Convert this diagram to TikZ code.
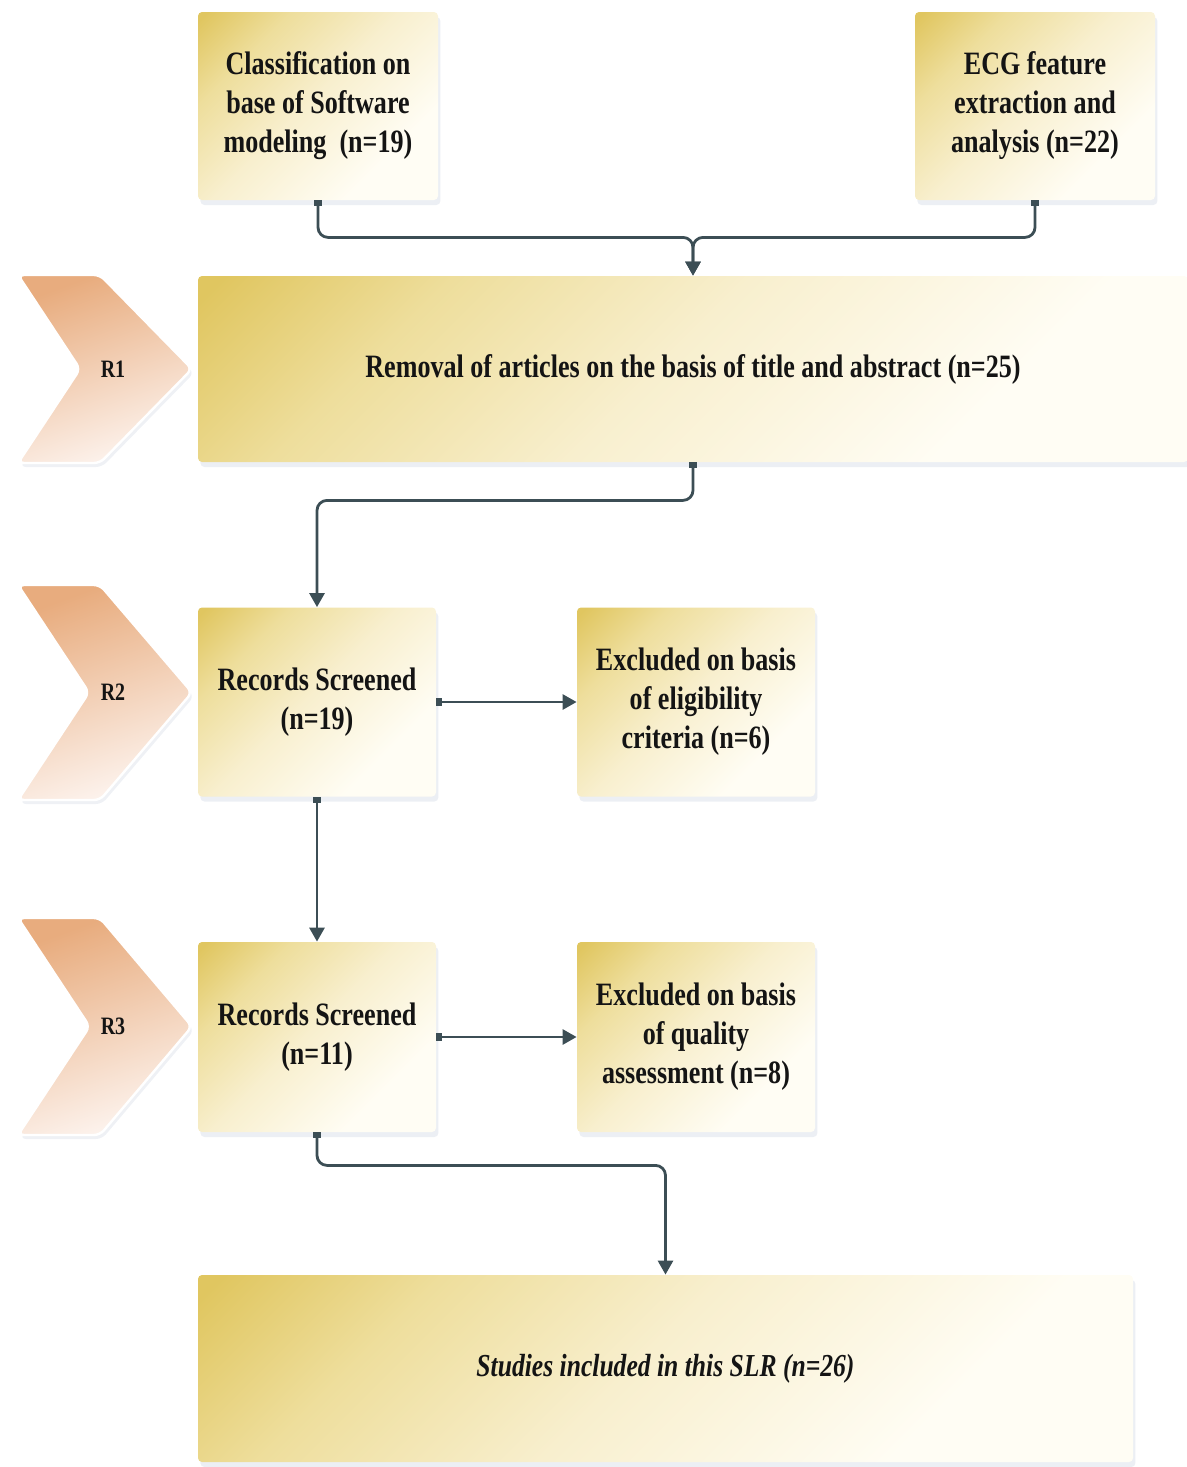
\documentclass[tikz,border=0pt]{standalone}
\usepackage{fontspec}
\setmainfont[FakeStretch=0.8]{Liberation Serif}
\usepackage{tikz}
\usepackage{xcolor}
\usetikzlibrary{arrows.meta}
\usetikzlibrary{positioning}
\usetikzlibrary{shadows}

\begin{document}
\begin{tikzpicture}[x=0.5pt, y=-0.5pt,
		stagebox/.style={rectangle, rounded corners=2pt, inner sep=0pt, align=center,
			shading=boxfade, shading angle=45,
			drop shadow={shadow xshift=1.2pt, shadow yshift=-2.5pt, opacity=0.14, fill=SHADOW},
			font=\bfseries\fontsize{16.3}{19.5}\selectfont, text=ALMOST_BLACK},
		chevron/.style={draw=WHITE, line width=1.2pt, rounded corners=3pt,
			top color=PEACH, bottom color=BLUSH, shading angle=20,
			drop shadow={shadow xshift=1pt, shadow yshift=-2pt, opacity=0.12, fill=SHADOW}},
		tag/.style={font=\bfseries\fontsize{12.5}{14}\selectfont, text=ALMOST_BLACK},
		link/.style={draw=SLATE, line width=1.4pt, rounded corners=5pt,
			{Square[length=3pt,width=4pt]}-{Triangle[length=7pt,width=7.5pt]}}]
				\definecolor{WHITE}{RGB}{255, 255, 255}
				\definecolor{ALMOST_BLACK}{RGB}{20, 20, 20}
				\definecolor{GOLD}{RGB}{224, 198, 96}
				\definecolor{MID_GOLD}{RGB}{238, 222, 156}
				\definecolor{LIGHT_GOLD}{RGB}{248, 239, 206}
				\definecolor{CREAM}{RGB}{255, 253, 244}
				\definecolor{PEACH}{RGB}{232, 172, 126}
				\definecolor{BLUSH}{RGB}{253, 244, 239}
				\definecolor{SHADOW}{RGB}{120, 140, 175}
				\definecolor{SLATE}{RGB}{60, 78, 85}
				\pgfdeclareverticalshading{boxfade}{100bp}{color(0bp)=(CREAM); color(30bp)=(CREAM);
					color(52bp)=(LIGHT_GOLD); color(70bp)=(MID_GOLD); color(84bp)=(GOLD); color(100bp)=(GOLD)}
				\useasboundingbox (0, 0) rectangle (1187, 1467);
				
				% chevrons on the left
				\foreach \lab/\top/\bot in {R1/275/463, R2/585/800, R3/918/1135} {
					\pgfmathsetmacro{\mid}{(\top + \bot)/2}
					\pgfmathsetmacro{\notch}{18 + 0.66*(\bot - \top)/2}
					\path[chevron] (18, \top) -- (100, \top) -- (192, \mid) -- (100, \bot) -- (18, \bot)
						-- (\notch, \mid) -- cycle;
					\node[tag] (chev\lab) at (113, \mid) {\lab};
				}
				
				% boxes
				\node[stagebox, minimum width=120pt, minimum height=94pt] (cls) at (318, 106)
					{Classification on\\base of Software\\modeling~ (n=19)};
				\node[stagebox, minimum width=120pt, minimum height=94pt] (ecg) at (1035, 106)
					{ECG feature\\extraction and\\analysis (n=22)};
				\node[stagebox, minimum width=495pt, minimum height=93pt] (rem) at (693, 369)
					{Removal of articles on the basis of title and abstract (n=25)};
				\node[stagebox, minimum width=119pt, minimum height=94.5pt] (scr2) at (317, 702)
					{Records Screened\\(n=19)};
				\node[stagebox, minimum width=119pt, minimum height=94.5pt] (exc2) at (696, 702)
					{Excluded on basis\\of eligibility\\criteria (n=6)};
				\node[stagebox, minimum width=119pt, minimum height=95pt] (scr3) at (317, 1037)
					{Records Screened\\(n=11)};
				\node[stagebox, minimum width=119pt, minimum height=95pt] (exc3) at (696, 1037)
					{Excluded on basis\\of quality\\assessment (n=8)};
				\node[stagebox, minimum width=467.5pt, minimum height=93.5pt, font=\bfseries\itshape\fontsize{16}{19.5}\selectfont]
					(incl) at (665.5, 1368.5) {Studies included in this SLR (n=26)};
				
				% connectors
				\draw[link] (cls.south) -- ++(0, 37) -| (rem.north);
				\draw[link] (ecg.south) -- ++(0, 37) -| (rem.north);
				\draw[link] (rem.south) -- ++(0, 38) -| (scr2.north);
				\draw[link] (scr2.east) -- (exc2.west);
				\draw[link] (scr2.south) -- (scr3.north);
				\draw[link] (scr3.east) -- (exc3.west);
				\draw[link] (scr3.south) -- ++(0, 33) -| (incl.north);
				
			\end{tikzpicture}
\end{document}
